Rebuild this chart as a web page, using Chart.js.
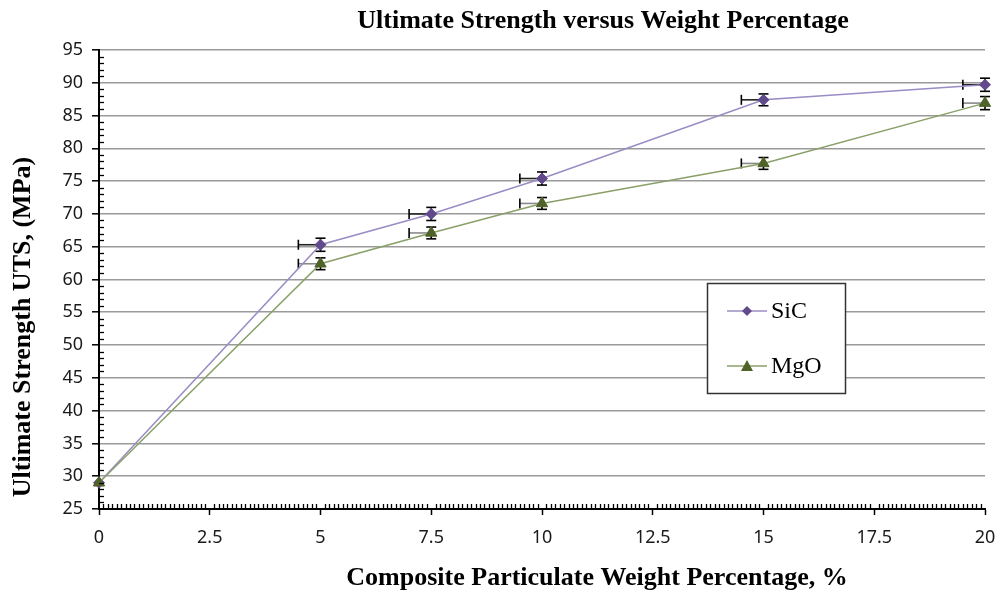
<!DOCTYPE html>
<html><head><meta charset="utf-8">
<script src="https://cdn.jsdelivr.net/npm/chart.js@4/dist/chart.umd.min.js"></script>
<style>html,body{margin:0;padding:0;background:#fff}</style>
</head><body>
<canvas id="utsChart" width="1000" height="591"></canvas>
<script>
// values
const weightPct = [0, 5, 7.5, 10, 15, 20];
const sicUts = [29, 65.3, 70, 75.4, 87.4, 89.7];
const mgoUts = [29, 62.4, 67.1, 71.6, 77.7, 86.9];
const sicErrX = [0, 0.5, 0.5, 0.5, 0.5, 0.5];
const sicErrY = [0, 1, 1, 1, 0.9, 1];
const mgoErrX = [0, 0.5, 0.5, 0.5, 0.5, 0.5];
const mgoErrY = [0, 0.9, 0.9, 0.9, 0.9, 1];
const xTicks = [0, 2.5, 5, 7.5, 10, 12.5, 15, 17.5, 20];
const yTicks = [25, 30, 35, 40, 45, 50, 55, 60, 65, 70, 75, 80, 85, 90, 95];

const chartTitle = 'Ultimate Strength versus Weight Percentage';
const xTitle = 'Composite Particulate Weight Percentage, %';
const yTitle = 'Ultimate Strength UTS, (MPa)';

const toPoints = (ys) => weightPct.map((x, i) => ({ x: x, y: ys[i] }));

// error bars: x only on the minus side, y both ways
const errorBars = {
    id: 'errorBars',
    beforeDatasetsDraw(chart) {
        const ctx = chart.ctx;
        const xs = chart.scales.x, ys = chart.scales.y;
        const sets = [
            { errX: sicErrX, errY: sicErrY, ys: sicUts, barColor: '#222' },
            { errX: mgoErrX, errY: mgoErrY, ys: mgoUts, barColor: '#8a8a8a' }
        ];
        ctx.save();
        ctx.lineWidth = 1.6;
        sets.forEach(s => {
            weightPct.forEach((x, i) => {
                const px = xs.getPixelForValue(x);
                const py = ys.getPixelForValue(s.ys[i]);
                if (s.errX[i] > 0) {
                    const lx = xs.getPixelForValue(x - s.errX[i]);
                    ctx.strokeStyle = s.barColor;
                    ctx.beginPath(); ctx.moveTo(lx, py); ctx.lineTo(px, py); ctx.stroke();
                    ctx.strokeStyle = '#000';
                    ctx.beginPath(); ctx.moveTo(lx, py - 5); ctx.lineTo(lx, py + 5); ctx.stroke();
                }
                if (s.errY[i] > 0) {
                    const ty = ys.getPixelForValue(s.ys[i] + s.errY[i]);
                    const by = ys.getPixelForValue(s.ys[i] - s.errY[i]);
                    ctx.strokeStyle = '#000';
                    ctx.beginPath(); ctx.moveTo(px, ty); ctx.lineTo(px, by); ctx.stroke();
                    ctx.beginPath(); ctx.moveTo(px - 5, ty); ctx.lineTo(px + 5, ty); ctx.stroke();
                    ctx.beginPath(); ctx.moveTo(px - 5, by); ctx.lineTo(px + 5, by); ctx.stroke();
                }
            });
        });
        ctx.restore();
    }
};

// minor tick marks, inside the plot
const minorTicks = {
    id: 'minorTicks',
    afterDraw(chart) {
        const ctx = chart.ctx;
        const xs = chart.scales.x, ys = chart.scales.y;
        const area = chart.chartArea;
        ctx.save();
        ctx.strokeStyle = '#000';
        ctx.lineWidth = 1.3;
        for (let k = 0; k <= 200; k++) {
            if (k % 25 === 0) continue;
            const px = Math.round(xs.getPixelForValue(k / 10)) + 0.5;
            ctx.beginPath(); ctx.moveTo(px, area.bottom); ctx.lineTo(px, area.bottom - 5); ctx.stroke();
        }
        for (let v = 25; v <= 95; v++) {
            if (v % 5 === 0) continue;
            const py = Math.round(ys.getPixelForValue(v)) + 0.5;
            ctx.beginPath(); ctx.moveTo(area.left, py); ctx.lineTo(area.left + 5, py); ctx.stroke();
        }
        ctx.restore();
    }
};

// titles sit off-centre in the original, so they are placed by hand
const titles = {
    id: 'titles',
    afterDraw(chart) {
        const ctx = chart.ctx;
        ctx.save();
        ctx.fillStyle = '#000';
        ctx.font = 'bold 26px "Liberation Serif"';
        ctx.textAlign = 'center';
        ctx.textBaseline = 'middle';
        ctx.fillText(chartTitle, 603, 21);
        ctx.fillText(xTitle, 597, 578);
        ctx.translate(23, 327);
        ctx.rotate(-Math.PI / 2);
        ctx.fillText(yTitle, 0, 0);
        ctx.restore();
    }
};

// boxed legend sitting inside the plot
const boxLegend = {
    id: 'boxLegend',
    afterDraw(chart) {
        const ctx = chart.ctx;
        ctx.save();
        ctx.fillStyle = '#fff';
        ctx.fillRect(707, 283, 138, 110);
        ctx.strokeStyle = '#333';
        ctx.lineWidth = 1.5;
        ctx.strokeRect(707.5, 283.5, 138, 110);
        const rows = [{ ds: chart.data.datasets[0], y: 311 }, { ds: chart.data.datasets[1], y: 366 }];
        rows.forEach(r => {
            ctx.strokeStyle = r.ds.borderColor;
            ctx.lineWidth = 1.5;
            ctx.beginPath(); ctx.moveTo(727, r.y); ctx.lineTo(767, r.y); ctx.stroke();
            ctx.fillStyle = r.ds.pointBackgroundColor;
            ctx.beginPath();
            if (r.ds.pointStyle === 'triangle') {
                ctx.moveTo(747, r.y - 6); ctx.lineTo(753, r.y + 5); ctx.lineTo(741, r.y + 5);
            } else {
                ctx.moveTo(747, r.y - 5); ctx.lineTo(752, r.y); ctx.lineTo(747, r.y + 5); ctx.lineTo(742, r.y);
            }
            ctx.closePath(); ctx.fill();
            ctx.fillStyle = '#000';
            ctx.font = '24px "Liberation Serif"';
            ctx.textBaseline = 'middle';
            ctx.fillText(r.ds.label, 771, r.y + 1);
        });
        ctx.restore();
    }
};

const utsCtx = document.getElementById('utsChart').getContext('2d');
const utsChart = new Chart(utsCtx, {
    type: 'line',
    data: {
        datasets: [{
            label: 'SiC',
            data: toPoints(sicUts),
            order: 1,
            clip: false,
            borderColor: '#9a8cc4',
            borderWidth: 1.5,
            pointStyle: 'rectRot',
            pointRadius: 5.5,
            pointBackgroundColor: '#604a8b',
            pointBorderColor: '#604a8b',
            pointBorderWidth: 1
        }, {
            label: 'MgO',
            data: toPoints(mgoUts),
            order: 0,
            clip: false,
            borderColor: '#8aa068',
            borderWidth: 1.5,
            pointStyle: 'triangle',
            pointRadius: 6.5,
            pointBackgroundColor: '#4f6228',
            pointBorderColor: '#4f6228',
            pointBorderWidth: 1
        }]
    },
    options: {
        responsive: false,
        animation: false,
        layout: { padding: { left: 0, right: 15, top: 50, bottom: 0 } },
        plugins: {
            legend: { display: false },
            tooltip: { enabled: false },
            title: { display: false }
        },
        scales: {
            x: {
                type: 'linear',
                min: 0,
                max: 20,
                afterBuildTicks: (s) => { s.ticks = xTicks.map(v => ({ value: v })); },
                afterFit: (s) => { s.height = 82; s.paddingLeft = 0; s.paddingRight = 0; },
                ticks: {
                    color: '#1a1a1a',
                    font: { family: '"Noto Sans"', size: 18 },
                    padding: 12,
                    maxRotation: 0,
                    callback: (v) => String(v)
                },
                grid: { drawOnChartArea: false, tickLength: 6, tickColor: '#000', tickWidth: 1.5 },
                border: { display: true, color: '#000', width: 2 }
            },
            y: {
                min: 25,
                max: 95,
                afterBuildTicks: (s) => { s.ticks = yTicks.map(v => ({ value: v })); },
                afterFit: (s) => { s.width = 99; s.paddingTop = 0; s.paddingBottom = 0; },
                ticks: {
                    color: '#1a1a1a',
                    font: { family: '"Noto Sans"', size: 18 },
                    padding: 9
                },
                grid: { color: '#9a9a9a', lineWidth: 1.6, tickLength: 7, tickColor: '#000', tickWidth: 1.5 },
                border: { display: true, color: '#000', width: 2 }
            }
        }
    },
    plugins: [errorBars, minorTicks, titles, boxLegend]
});
</script>
</body></html>
